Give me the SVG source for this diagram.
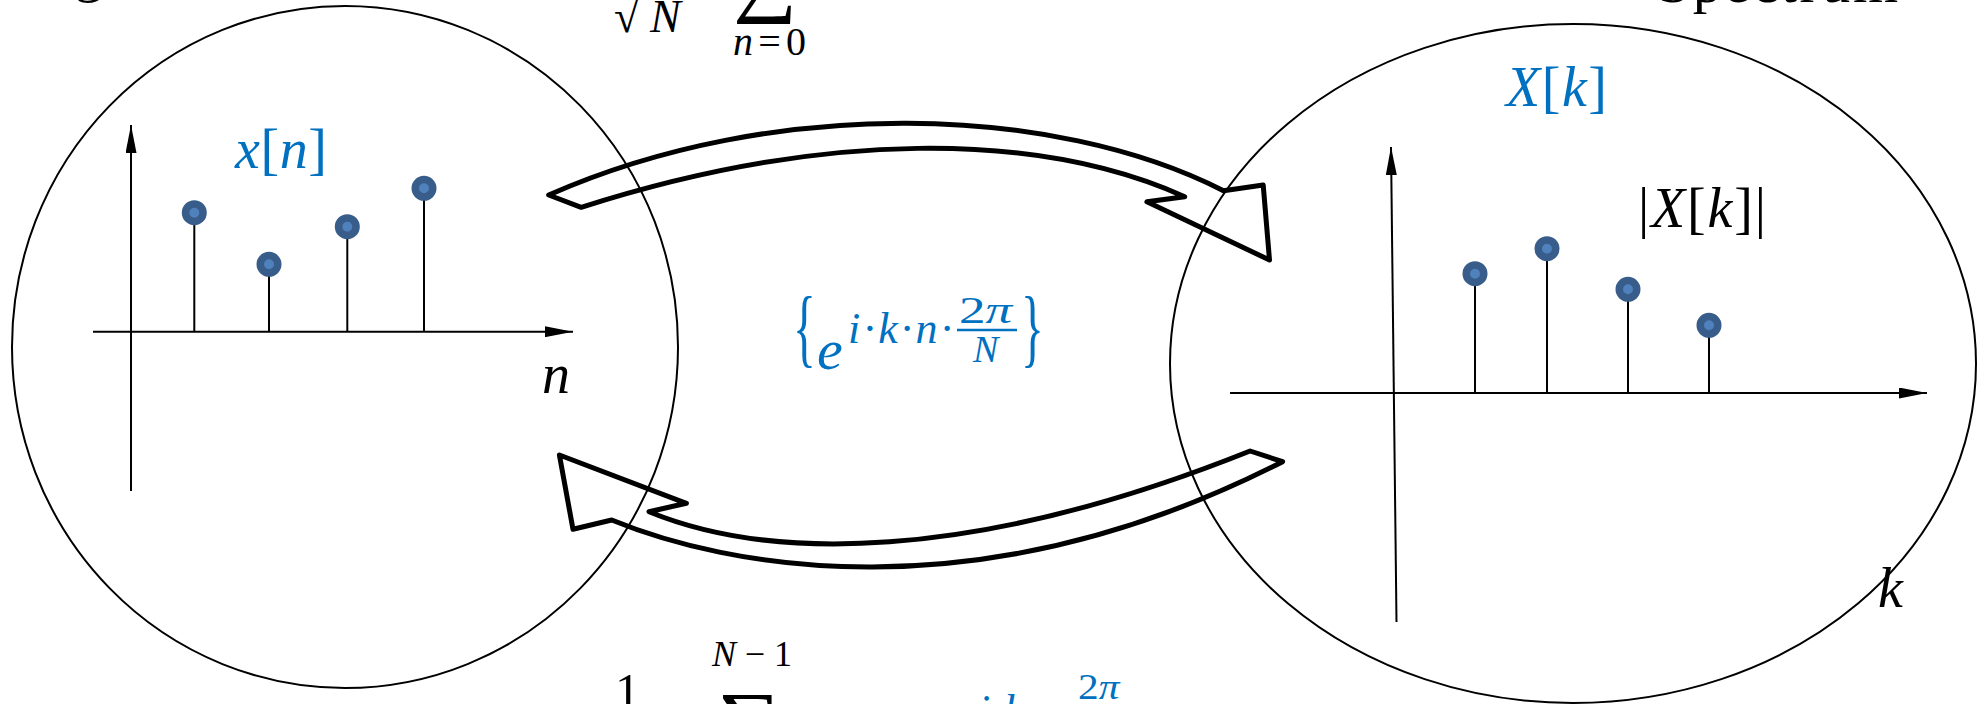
<svg xmlns="http://www.w3.org/2000/svg" width="1984" height="704" viewBox="0 0 1984 704">
<style>
.dom{fill:none;stroke:#000;stroke-width:2}
.ax{stroke:#000;stroke-width:2;fill:none}
.stem{stroke:#000;stroke-width:2}
.dot{fill:#4F81BD;stroke:#385D8A;stroke-width:7.5}
.arr{fill:none;stroke:#000;stroke-width:5;stroke-linejoin:round}
.mi{font-family:"Liberation Serif",serif;font-style:italic}
.mu{font-family:"Liberation Serif",serif;font-style:normal}
.blue{fill:#0070C0}
</style>
<defs>
<marker id="ah" viewBox="0 0 28 11" refX="28" refY="5.5" markerWidth="28" markerHeight="11" markerUnits="userSpaceOnUse" orient="auto">
<path d="M0,0 L28,5.5 L0,11 Z" fill="#000"/>
</marker>
</defs>

<g id="connectors">
<path id="forward-arrow" class="arr" d="M548.7,195 C773.7,96 1053.5,104 1223.5,190.7 L1263.2,185 L1269.5,260 L1146.9,201.7 L1184.7,196.7 C1037.7,130.5 821.2,130.5 581.2,207.3 Z"/>
<path id="inverse-arrow" class="arr" d="M1250.1,451 L1282.6,461.7 C972.6,619.8 721.7,565.1 611.7,520 L573,529.3 L559.4,455 L686.4,503.3 L649,511.7 C769,560.9 970.1,563 1250.1,451 Z"/>
</g>

<g id="signal-domain">
<ellipse class="dom" cx="345" cy="347" rx="333" ry="341"/>
<line class="ax" x1="131" y1="491" x2="131" y2="125" marker-end="url(#ah)"/>
<line class="ax" x1="93" y1="331.7" x2="573" y2="331.7" marker-end="url(#ah)"/>
<line class="stem" x1="194.3" y1="331.7" x2="194.3" y2="212.7"/>
<line class="stem" x1="269" y1="331.7" x2="269" y2="264.3"/>
<line class="stem" x1="347.3" y1="331.7" x2="347.3" y2="226.7"/>
<line class="stem" x1="424" y1="331.7" x2="424" y2="188.3"/>
<circle class="dot" cx="194.3" cy="212.7" r="8.75"/>
<circle class="dot" cx="269" cy="264.3" r="8.75"/>
<circle class="dot" cx="347.3" cy="226.7" r="8.75"/>
<circle class="dot" cx="424" cy="188.3" r="8.75"/>
<text class="mi blue" x="235" y="168" font-size="56" textLength="92" lengthAdjust="spacing">x<tspan class="mu">[</tspan>n<tspan class="mu">]</tspan></text>
<text class="mi" x="542" y="393" font-size="56">n</text>
</g>

<g id="spectrum-domain">
<ellipse class="dom" cx="1573" cy="363.5" rx="403" ry="339.5"/>
<line class="ax" x1="1396.5" y1="622" x2="1391" y2="147" marker-end="url(#ah)"/>
<line class="ax" x1="1230" y1="393" x2="1927" y2="393" marker-end="url(#ah)"/>
<line class="stem" x1="1475" y1="393" x2="1475" y2="273.7"/>
<line class="stem" x1="1547" y1="393" x2="1547" y2="248.7"/>
<line class="stem" x1="1628" y1="393" x2="1628" y2="289.3"/>
<line class="stem" x1="1709" y1="393" x2="1709" y2="325.3"/>
<circle class="dot" cx="1475" cy="273.7" r="8.75"/>
<circle class="dot" cx="1547" cy="248.7" r="8.75"/>
<circle class="dot" cx="1628" cy="289.3" r="8.75"/>
<circle class="dot" cx="1709" cy="325.3" r="8.75"/>
<text class="mi blue" x="1506" y="106" font-size="56" textLength="101" lengthAdjust="spacing">X<tspan class="mu">[</tspan>k<tspan class="mu">]</tspan></text>
<text class="mi" x="1638" y="227" font-size="56" textLength="128" lengthAdjust="spacing"><tspan class="mu">|</tspan>X<tspan class="mu">[</tspan>k<tspan class="mu">]|</tspan></text>
<text class="mi" x="1878" y="607" font-size="56">k</text>
</g>

<g id="basis-label">
<text class="mu blue" transform="translate(793,355.5) scale(0.85,1.55)" font-size="56">{</text>
<text class="mi blue" x="817" y="369" font-size="58">e</text>
<text class="mi blue" x="848" y="343" font-size="44" textLength="104" lengthAdjust="spacing">i·k·n·</text>
<text class="mi blue" transform="translate(959,323) scale(1.4,1)" font-size="38"><tspan class="mu">2</tspan>π</text>
<line x1="957" y1="330" x2="1017" y2="330" stroke="#0070C0" stroke-width="2.5"/>
<text class="mi blue" x="973" y="362" font-size="38">N</text>
<text class="mu blue" transform="translate(1021,355.5) scale(0.85,1.55)" font-size="56">}</text>
</g>

<g id="forward-formula">
<text class="mu" x="614" y="32" font-size="46">√</text>
<text class="mi" x="650" y="32" font-size="46">N</text>
<text class="mu" x="733" y="5" font-size="90">∑</text>
<text class="mi" x="733" y="55" font-size="40" textLength="73" lengthAdjust="spacing">n<tspan class="mu">=0</tspan></text>
</g>

<g id="inverse-formula">
<text class="mu" x="615" y="708" font-size="50">1</text>
<text class="mi" x="712" y="666" font-size="36" textLength="80" lengthAdjust="spacing">N<tspan class="mu">−1</tspan></text>
<text class="mu" x="717" y="754" font-size="90">∑</text>
<text class="mi blue" x="978" y="725" font-size="44" textLength="94" lengthAdjust="spacing">i·k·n·</text>
<text class="mi blue" transform="translate(1078,699) scale(1.15,1)" font-size="36"><tspan class="mu">2</tspan>π</text>
</g>

<g id="titles">
<text class="mu" x="74" y="-9.5" font-size="58">g</text>
<text class="mu" x="1658" y="1.5" font-size="58" textLength="240" lengthAdjust="spacing">Spectrum</text>
</g>
</svg>
